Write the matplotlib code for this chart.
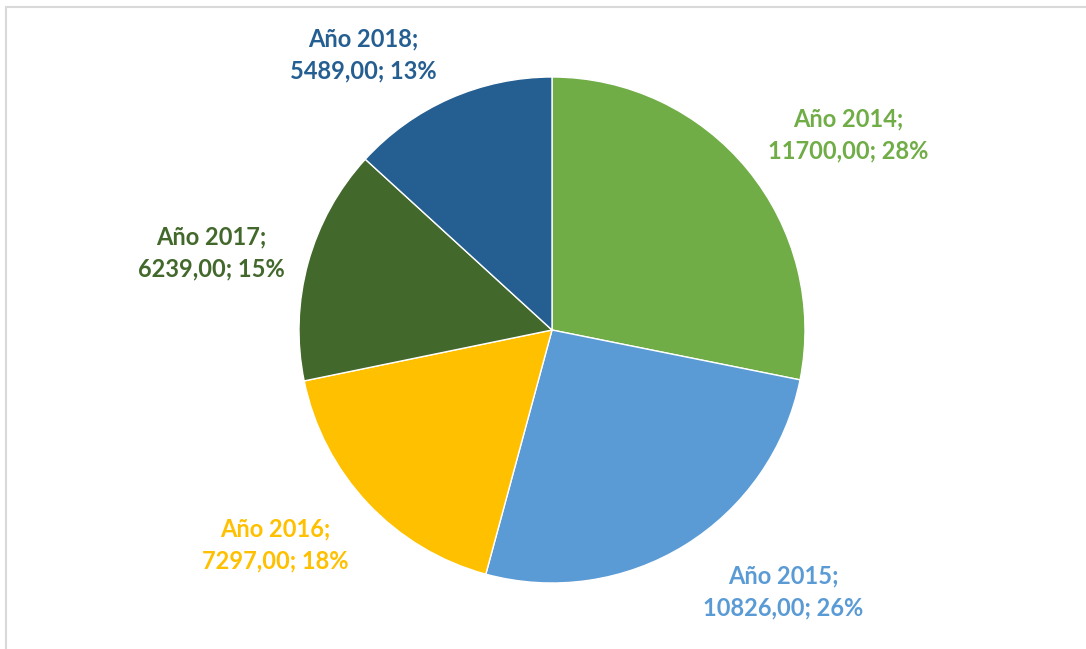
import matplotlib.pyplot as plt
from matplotlib.patches import Rectangle

# Data
years = ['Año 2014', 'Año 2015', 'Año 2016', 'Año 2017', 'Año 2018']
values = [11700.00, 10826.00, 7297.00, 6239.00, 5489.00]
colors = ['#70AD47', '#5B9BD5', '#FFC000', '#43682B', '#255E91']

# Label centres in pixel coordinates (x, y from top)
label_pos = [(848, 135), (783, 592), (275, 545), (211, 253), (363, 55)]

W, H = 1086, 649
plt.rcParams['font.family'] = ['Lato', 'DejaVu Sans']

fig = plt.figure(figsize=(W / 100, H / 100), dpi=100)

# Chart area border (runs off the right and bottom edges)
fig.patches.append(Rectangle((6 / W, -0.1), 1.1, 1.1 - 7 / H, transform=fig.transFigure,
                             fill=False, edgecolor='#D9D9D9', linewidth=1.5))

cx, cy, r = 552, 330, 253
ax = fig.add_axes([(cx - r) / W, (H - cy - r) / H, 2 * r / W, 2 * r / H])
ax.pie(values, colors=colors, startangle=90, counterclock=False,
       wedgeprops=dict(edgecolor='white', linewidth=1))
ax.set_xlim(-1, 1)
ax.set_ylim(-1, 1)
ax.set_aspect('auto')
ax.axis('off')

total = sum(values)
for name, val, col, (px, py) in zip(years, values, colors, label_pos):
    pct = round(val / total * 100)
    txt = f"{name};\n{val:.2f}".replace('.', ',') + f"; {pct}%"
    fig.text(px / W, 1 - py / H, txt, ha='center', va='center', color=col,
             fontsize=17, fontweight='bold', linespacing=1.5)

fig.savefig('out.png', dpi=100)
